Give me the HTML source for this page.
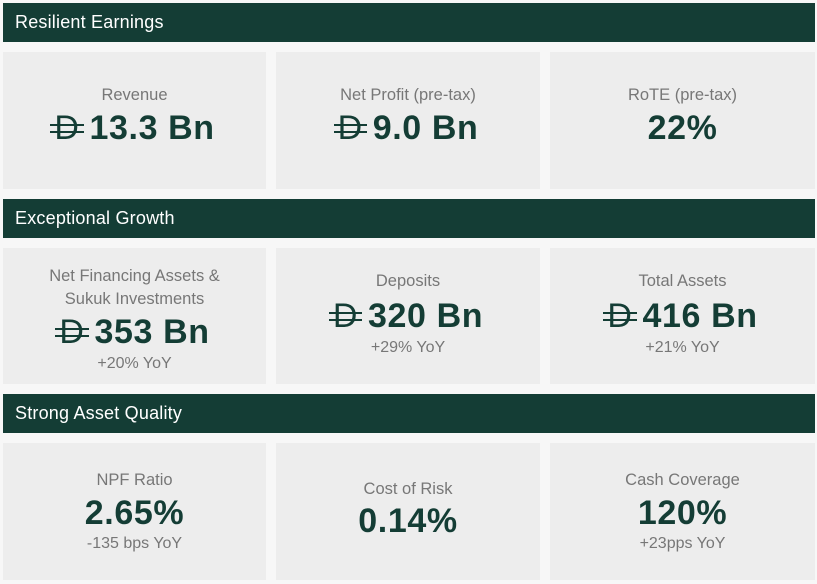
<!DOCTYPE html>
<html><head><meta charset="utf-8"><style>
body{margin:0;width:817px;height:584px;background:#f7f7f7;font-family:"Liberation Sans",sans-serif;position:relative;overflow:hidden}
.h{position:absolute;left:3px;width:812px;height:39px;background:#143d35;color:#fff;font-size:18px;line-height:39px;padding-left:12px;box-sizing:border-box;letter-spacing:0.2px}
.c{position:absolute;background:#ededed;text-align:center}
.t{position:absolute;left:0;right:0;color:#777;font-size:16.5px;line-height:23px}
.v{position:absolute;left:0;right:0;color:#143d35;font-size:34px;font-weight:bold;line-height:40px;letter-spacing:0.6px}
.s{position:absolute;left:0;right:0;color:#777;font-size:16px;line-height:20px}
.d{position:relative;display:inline-block;font-weight:normal;margin-right:10px}
.d:before,.d:after{content:"";position:absolute;left:-4px;right:-4px;height:2px;background:#143d35}
.d:before{top:16px}.d:after{top:23px}
</style></head><body>
<div class="h" style="top:3px">Resilient Earnings</div>
<div class="h" style="top:199px">Exceptional Growth</div>
<div class="h" style="top:394px">Strong Asset Quality</div>

<div class="c" style="left:3px;top:52px;width:263px;height:137px"><div class="t" style="top:32px">Revenue</div><div class="v" style="top:56px"><span class="d">D</span>13.3 Bn</div></div>
<div class="c" style="left:276px;top:52px;width:264px;height:137px"><div class="t" style="top:32px">Net Profit (pre-tax)</div><div class="v" style="top:56px"><span class="d">D</span>9.0 Bn</div></div>
<div class="c" style="left:550px;top:52px;width:265px;height:137px"><div class="t" style="top:32px">RoTE (pre-tax)</div><div class="v" style="top:56px">22%</div></div>

<div class="c" style="left:3px;top:248px;width:263px;height:136px"><div class="t" style="top:17px">Net Financing Assets &amp;<br>Sukuk Investments</div><div class="v" style="top:64px"><span class="d">D</span>353 Bn</div><div class="s" style="top:106px">+20% YoY</div></div>
<div class="c" style="left:276px;top:248px;width:264px;height:136px"><div class="t" style="top:22px">Deposits</div><div class="v" style="top:48px"><span class="d">D</span>320 Bn</div><div class="s" style="top:90px">+29% YoY</div></div>
<div class="c" style="left:550px;top:248px;width:265px;height:136px"><div class="t" style="top:22px">Total Assets</div><div class="v" style="top:48px"><span class="d">D</span>416 Bn</div><div class="s" style="top:90px">+21% YoY</div></div>

<div class="c" style="left:3px;top:443px;width:263px;height:137px"><div class="t" style="top:26px">NPF Ratio</div><div class="v" style="top:50px">2.65%</div><div class="s" style="top:91px">-135 bps YoY</div></div>
<div class="c" style="left:276px;top:443px;width:264px;height:137px"><div class="t" style="top:35px">Cost of Risk</div><div class="v" style="top:58px">0.14%</div></div>
<div class="c" style="left:550px;top:443px;width:265px;height:137px"><div class="t" style="top:26px">Cash Coverage</div><div class="v" style="top:50px">120%</div><div class="s" style="top:91px">+23pps YoY</div></div>
</body></html>
